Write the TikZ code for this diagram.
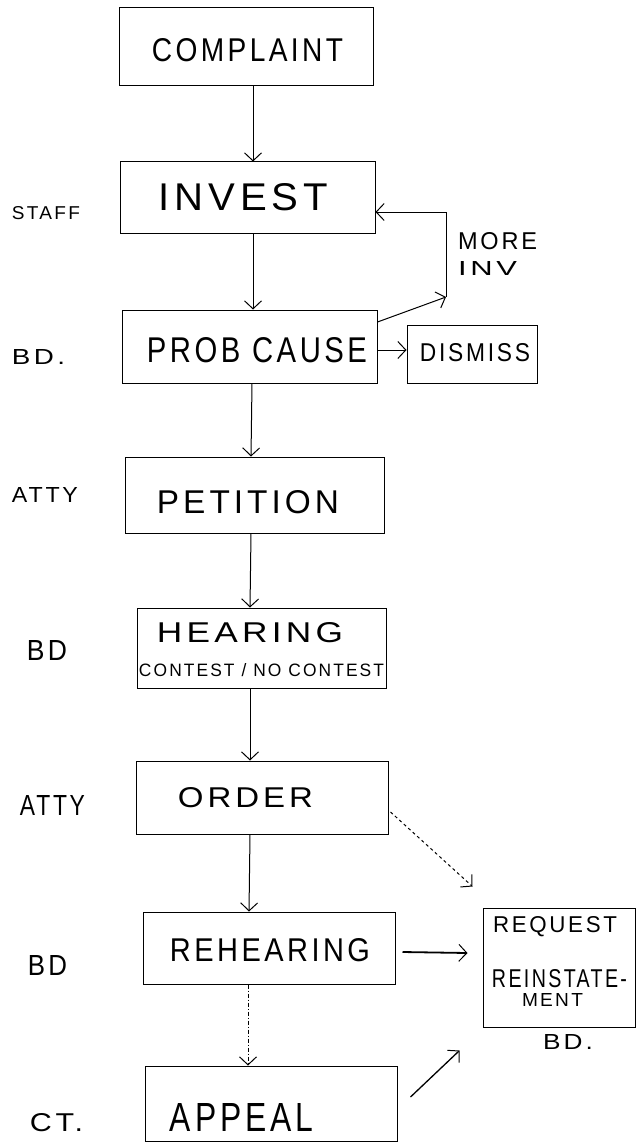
\documentclass[tikz,border=0pt]{standalone}
\usepackage{fontspec}
\usepackage{graphicx}
\newfontfamily\hand[LetterSpace=12]{Liberation Sans}
\usetikzlibrary{arrows.meta}
\newcommand{\hw}[3]{\resizebox{#1pt}{#2pt}{\hand #3}}
\begin{document}
\begin{tikzpicture}[x=1pt,y=-1pt,
  box/.style={draw, line width=1pt, rectangle, inner sep=0pt},
  txt/.style={inner sep=0pt},
  flow/.style={line width=1pt, -{Straight Barb[length=8pt,width=17pt,line width=1pt]}},
]
\useasboundingbox (0,0) rectangle (637,1142);
% boxes
\node[box, minimum width=254pt, minimum height=78pt] (complaint) at (246,47) {};
\node[box, minimum width=255pt, minimum height=71pt] (invest) at (247.5,197.5) {};
\node[box, minimum width=255pt, minimum height=73pt] (probcause) at (249.5,346.5) {};
\node[box, minimum width=130pt, minimum height=58pt] (dismiss) at (472,354) {};
\node[box, minimum width=259pt, minimum height=76pt] (petition) at (254.5,495) {};
\node[box, minimum width=249pt, minimum height=80pt] (hearing) at (261.5,648) {};
\node[box, minimum width=252pt, minimum height=73pt] (order) at (262,797.5) {};
\node[box, minimum width=252pt, minimum height=72pt] (rehearing) at (269,948) {};
\node[box, minimum width=252pt, minimum height=75pt] (appeal) at (271,1103.5) {};
\node[box, minimum width=152pt, minimum height=119pt] (request) at (559,967.5) {};
% box texts
\node[txt] (tcomplaint) at (247.5,50) {\hw{191}{23}{COMPLAINT}};
\node[txt] (tinvest) at (243.5,197) {\hw{169}{27}{INVEST}};
\node[txt] (tprob) at (257,350) {\hw{220}{25}{PROB CAUSE}};
\node[txt] (tdismiss) at (475,353) {\hw{110}{18}{DISMISS}};
\node[txt] (tpetition) at (248,502) {\hw{182}{23}{PETITION}};
\node[txt] (thearing) at (250,633) {\hw{186}{20}{HEARING}};
\node[txt] (tcontest) at (261.5,670) {\hw{245}{13}{CONTEST / NO CONTEST}};
\node[txt] (torder) at (245.5,798) {\hw{135}{20}{ORDER}};
\node[txt] (trehearing) at (270,950) {\hw{200}{23}{REHEARING}};
\node[txt] (tappeal) at (241.5,1117) {\hw{143}{28}{APPEAL}};
\node[txt] (trequest) at (555,927) {\hw{124}{16}{REQUEST}};
\node[txt] (treinstate) at (559.5,979) {\hw{135}{18}{REINSTATE-}};
\node[txt] (tment) at (552.5,1000) {\hw{61}{13}{MENT}};
\node[txt] (treqbd) at (568,1042) {\hw{50}{15}{BD.}};
% side labels
\node[txt] (lstaff) at (46,213) {\hw{68}{13}{STAFF}};
\node[txt] (lbd1) at (38.5,357) {\hw{53}{15}{BD.}};
\node[txt] (latty1) at (45,495) {\hw{66}{15}{ATTY}};
\node[txt] (lbd2) at (47,650) {\hw{40}{20}{BD}};
\node[txt] (latty2) at (52.5,805) {\hw{65}{20}{ATTY}};
\node[txt] (lbd3) at (47.5,965) {\hw{39}{20}{BD}};
\node[txt] (lct) at (56.5,1123) {\hw{53}{18}{CT.}};
\node[txt] (lmore) at (497.5,241) {\hw{79}{17}{MORE}};
\node[txt] (linv) at (487.5,268) {\hw{59}{14}{INV}};
% main flow
\draw[flow] ([xshift=7pt]complaint.south) -- ([xshift=5.5pt]invest.north);
\draw[flow] ([xshift=5.5pt]invest.south) -- ([xshift=3.5pt]probcause.north);
\draw[flow] ([xshift=2.5pt]probcause.south) -- ([xshift=-3.5pt]petition.north);
\draw[flow] ([xshift=-3.5pt]petition.south) -- ([xshift=-11.5pt]hearing.north);
\draw[flow] ([xshift=-11.5pt]hearing.south) -- ([xshift=-12pt]order.north);
\draw[flow] ([xshift=-12pt]order.south) -- ([xshift=-20pt]rehearing.north);
\draw[flow, dash pattern=on 4pt off 2pt on 1pt off 2pt] ([xshift=-21pt]rehearing.south) -- ([xshift=-23pt]appeal.north);
% side branches
\draw[flow] ([yshift=-3.5pt]probcause.east) -- ([yshift=4pt]dismiss.west);
\coordinate (moreinv) at (446,297);
\draw[flow] ([yshift=24.5pt]probcause.east) -- (moreinv);
\draw[flow] (moreinv) |- ([yshift=-14.5pt]invest.east);
\draw[flow, dashed] ([xshift=2pt,yshift=-14.5pt]order.east) -- ([xshift=-10pt,yshift=21pt]request.north west);
\draw[flow, line width=1.8pt] ([xshift=7pt,yshift=-4pt]rehearing.east) -- ([xshift=-15pt,yshift=14.5pt]request.west);
\draw[flow, line width=1.3pt] ([xshift=13pt,yshift=6.5pt]appeal.east) -- ([xshift=-23pt,yshift=-23pt]request.south west);
\end{tikzpicture}
\end{document}
